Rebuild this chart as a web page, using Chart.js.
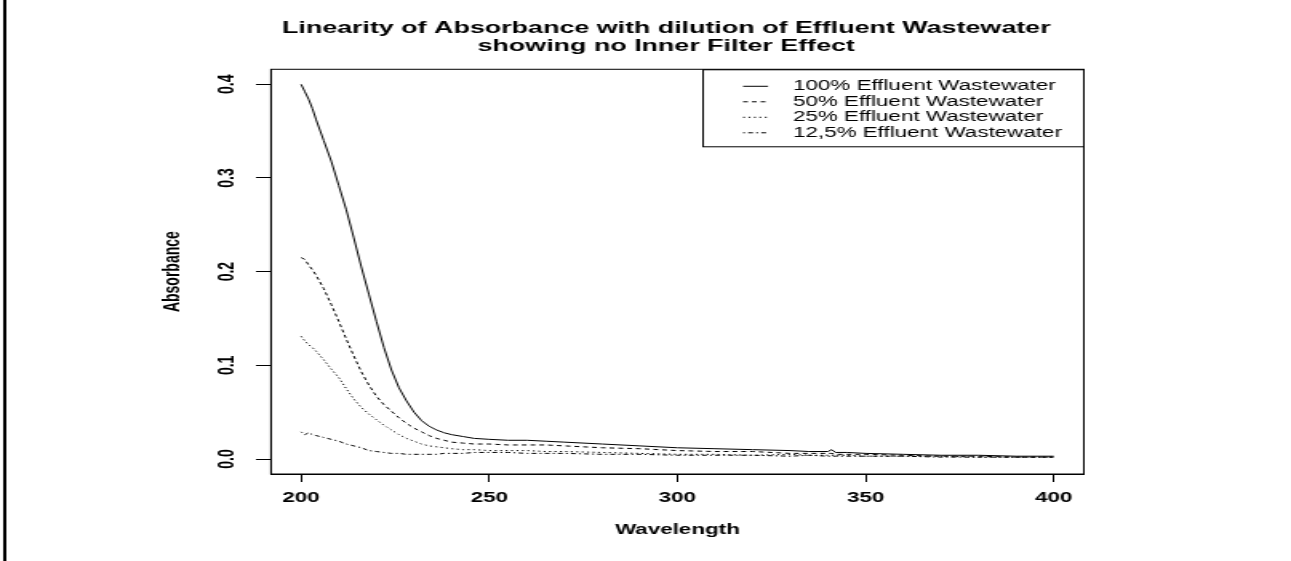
<!DOCTYPE html>
<html>
<head>
<meta charset="utf-8">
<script src="https://cdn.jsdelivr.net/npm/chart.js@4"></script>
<style>
  html, body { margin: 0; padding: 0; background: #fff; }
</style>
</head>
<body>
<!-- the reference is an R plot stretched sideways, so the canvas is drawn narrow and widened by its inline style -->
<canvas id="chart" width="807" height="561" style="width:1291px;height:561px"></canvas>
<script>
// wavelengths (nm)
var wavelength = [200, 201, 202, 203, 204, 206, 208, 210, 212, 214, 216, 218, 220, 222, 224, 226, 228, 230, 232, 234, 236, 238, 240,
  243, 246, 250, 255, 260, 265, 270, 280, 290, 300, 310, 320, 330, 335, 340, 341, 342, 345, 350, 360, 370, 380, 390, 400];

// absorbance
var eff100 = [0.400, 0.392, 0.384, 0.374, 0.362, 0.340, 0.318, 0.292, 0.266, 0.236, 0.205, 0.176, 0.147, 0.119, 0.095, 0.076, 0.062, 0.050, 0.041, 0.035, 0.031, 0.028, 0.026,
  0.024, 0.022, 0.021, 0.020, 0.020, 0.019, 0.018, 0.016, 0.014, 0.012, 0.011, 0.010, 0.009, 0.008, 0.008, 0.010, 0.007, 0.007, 0.006, 0.005, 0.004, 0.004, 0.003, 0.003];
var eff50 = [0.215, 0.213, 0.207, 0.202, 0.196, 0.182, 0.165, 0.147, 0.128, 0.110, 0.093, 0.079, 0.067, 0.058, 0.051, 0.044, 0.038, 0.033, 0.029, 0.025, 0.022, 0.020, 0.018,
  0.017, 0.016, 0.016, 0.015, 0.015, 0.015, 0.014, 0.012, 0.011, 0.009, 0.008, 0.008, 0.006, 0.006, 0.006, 0.006, 0.005, 0.005, 0.005, 0.004, 0.003, 0.003, 0.002, 0.002];
var eff25 = [0.131, 0.126, 0.122, 0.119, 0.115, 0.106, 0.096, 0.087, 0.075, 0.064, 0.055, 0.048, 0.042, 0.036, 0.031, 0.026, 0.022, 0.019, 0.016, 0.014, 0.013, 0.012, 0.011,
  0.010, 0.010, 0.009, 0.009, 0.009, 0.008, 0.008, 0.007, 0.006, 0.005, 0.005, 0.004, 0.005, 0.004, 0.004, 0.004, 0.004, 0.004, 0.003, 0.003, 0.003, 0.002, 0.002, 0.002];
var eff12 = [0.029, 0.026, 0.028, 0.026, 0.025, 0.023, 0.021, 0.019, 0.016, 0.014, 0.012, 0.009, 0.008, 0.007, 0.006, 0.006, 0.005, 0.005, 0.005, 0.005, 0.005, 0.006, 0.006,
  0.006, 0.007, 0.007, 0.007, 0.006, 0.006, 0.006, 0.005, 0.005, 0.004, 0.004, 0.004, 0.003, 0.004, 0.003, 0.003, 0.003, 0.003, 0.003, 0.003, 0.002, 0.002, 0.002, 0.002];

var seriesLabels = ['100% Effluent Wastewater', '50% Effluent Wastewater', '25% Effluent Wastewater', '12,5% Effluent Wastewater'];
var xTicks = [200, 250, 300, 350, 400];
var yTicks = [0.0, 0.1, 0.2, 0.3, 0.4];
var titleLines = ['Linearity of Absorbance with dilution of Effluent Wastewater', 'showing no Inner Filter Effect'];

var dashes = [[], [3, 2.5], [1.2, 2.2], [1.2, 2, 3, 2]];
var series = [eff100, eff50, eff25, eff12];

Chart.defaults.font.family = '"Liberation Sans", Arial, Helvetica, sans-serif';
Chart.defaults.color = '#000';

var datasets = series.map(function (vals, k) {
  return {
    label: seriesLabels[k],
    data: wavelength.map(function (w, i) { return { x: w, y: vals[i] }; }),
    borderColor: '#000',
    borderWidth: 1,
    borderDash: dashes[k],
    pointRadius: 0,
    tension: 0,
    fill: false
  };
});

// R style box legend in the top right corner, plot frame and the page edge line
var rStuff = {
  id: 'rStuff',
  afterLayout: function (chart) {
    chart.titleBlock.left -= 7;
    chart.titleBlock.right -= 7;
  },
  afterDatasetsDraw: function (chart) {
    var ctx = chart.ctx, a = chart.chartArea;
    var w = 238, h = 77;
    var left = a.right - w, top = a.top + 0.5;
    ctx.save();
    ctx.fillStyle = '#fff';
    ctx.fillRect(left, top, w, h);
    ctx.strokeStyle = '#000';
    ctx.lineWidth = 1;
    ctx.strokeRect(left, top, w, h);
    ctx.font = '14px "Liberation Sans", Arial, sans-serif';
    ctx.fillStyle = '#000';
    ctx.textBaseline = 'middle';
    chart.data.datasets.forEach(function (ds, i) {
      var y = top + 16.5 + i * 15.5;
      ctx.setLineDash(ds.borderDash);
      ctx.beginPath();
      ctx.moveTo(left + 25, y);
      ctx.lineTo(left + 40.6, y);
      ctx.stroke();
      ctx.setLineDash([]);
      ctx.fillText(ds.label, left + 56.2, y);
    });
    ctx.restore();
  },
  afterDraw: function (chart) {
    var ctx = chart.ctx, a = chart.chartArea;
    ctx.save();
    ctx.strokeStyle = '#000';
    ctx.lineWidth = 1;
    ctx.strokeRect(a.left, a.top, a.right - a.left, a.bottom - a.top);
    ctx.lineWidth = 2;
    ctx.beginPath();
    ctx.moveTo(3, 0);
    ctx.lineTo(3, chart.height);
    ctx.stroke();
    ctx.restore();
  }
};

new Chart(document.getElementById('chart'), {
  type: 'line',
  data: { datasets: datasets },
  options: {
    responsive: false,
    animation: false,
    devicePixelRatio: 1,
    layout: { padding: { left: 0, right: 129.5, top: 0, bottom: 0 } },
    plugins: {
      legend: { display: false },
      tooltip: { enabled: false },
      title: {
        display: true,
        text: titleLines,
        fullSize: false,
        color: '#000',
        font: { size: 16.8, weight: 'bold', lineHeight: 1.08 },
        padding: { top: 19.5, bottom: 13.5 }
      }
    },
    scales: {
      x: {
        type: 'linear',
        min: 192,
        max: 408,
        afterBuildTicks: function (s) { s.ticks = xTicks.map(function (v) { return { value: v }; }); },
        afterFit: function (s) { s.height = 87; },
        ticks: { font: { size: 14, weight: 'bold' }, color: '#000', padding: 7.6, maxRotation: 0, autoSkip: false },
        grid: { drawOnChartArea: false, tickLength: 8, color: '#000' },
        border: { display: true, color: '#000' },
        title: { display: true, text: 'Wavelength', color: '#000', font: { size: 14, weight: 'bold' }, padding: { top: 0, bottom: 22.6 } }
      },
      y: {
        type: 'linear',
        min: -0.016,
        max: 0.416,
        afterBuildTicks: function (s) { s.ticks = yTicks.map(function (v) { return { value: v }; }); },
        afterFit: function (s) { s.width = 169.4; },
        ticks: {
          font: { size: 14, weight: 'bold' }, color: '#000', padding: 8.4,
          minRotation: 90, maxRotation: 90, crossAlign: 'center', autoSkip: false,
          callback: function (v) { return v.toFixed(1); }
        },
        grid: { drawOnChartArea: false, tickLength: 9.4, color: '#000' },
        border: { display: true, color: '#000' },
        title: { display: true, text: 'Absorbance', color: '#000', font: { size: 14, weight: 'bold' }, padding: { top: 99.6, bottom: 0 } }
      }
    }
  },
  plugins: [rStuff]
});
</script>
</body>
</html>
